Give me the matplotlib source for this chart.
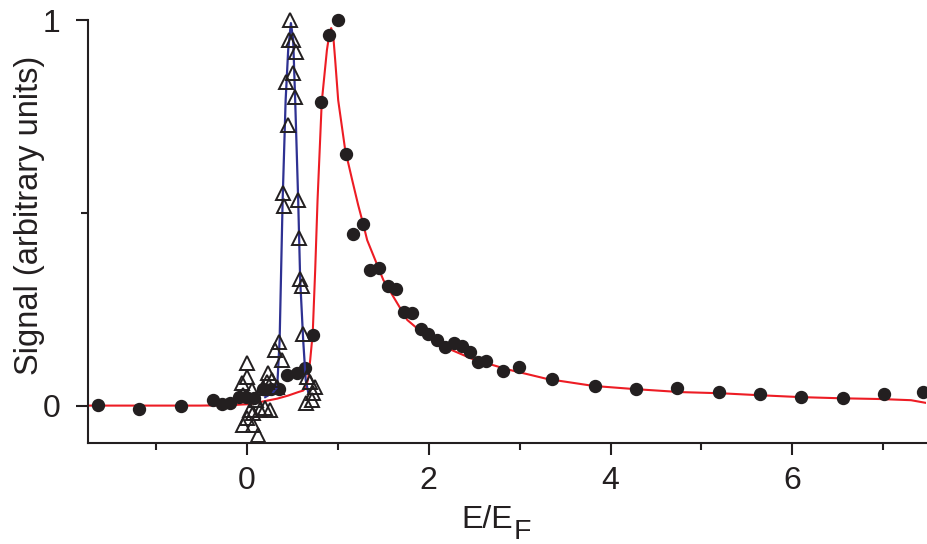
#%%
# --> Import libraries
import matplotlib
matplotlib.use('Agg')
import matplotlib.pyplot as plt
from matplotlib.ticker import FixedLocator

plt.rcParams['font.family'] = ['Liberation Sans', 'DejaVu Sans']


#%%
# --> Data
# filled circles (measured signal)
circle_x = [-1.638, -1.186, -0.724, -0.371, -0.272, -0.184, -0.085, -0.008, 0.080,
            0.180, 0.268, 0.356, 0.444, 0.554, 0.642, 0.730, 0.818, 0.906, 1.005,
            1.093, 1.171, 1.281, 1.358, 1.457, 1.556, 1.644, 1.732, 1.820, 1.919,
            1.997, 2.096, 2.184, 2.283, 2.371, 2.459, 2.547, 2.635, 2.823, 2.999,
            3.362, 3.825, 4.277, 4.728, 5.191, 5.642, 6.094, 6.556, 7.008, 7.437]
circle_y = [0.001, -0.008, -0.001, 0.014, 0.003, 0.006, 0.022, 0.023, 0.020,
            0.043, 0.044, 0.044, 0.080, 0.085, 0.098, 0.183, 0.787, 0.961, 1.000,
            0.652, 0.445, 0.470, 0.351, 0.357, 0.310, 0.302, 0.243, 0.240, 0.198,
            0.185, 0.170, 0.152, 0.162, 0.154, 0.139, 0.113, 0.115, 0.090, 0.100,
            0.069, 0.050, 0.043, 0.045, 0.035, 0.030, 0.022, 0.019, 0.030, 0.035]

# red fit through the circles
red_x = [-1.748, -0.514, -0.184, 0.036, 0.334, 0.455, 0.565, 0.620, 0.653, 0.675,
         0.697, 0.725, 0.752, 0.778, 0.824, 0.881, 0.906, 0.928, 0.950, 0.972,
         1.005, 1.082, 1.159, 1.225, 1.281, 1.324, 1.501, 1.765, 1.985, 2.205,
         2.491, 2.866, 3.306, 3.813, 4.254, 4.771, 5.212, 5.630, 6.091, 6.531,
         6.972, 7.305, 7.470]
red_y = [0.000, 0.000, 0.001, 0.004, 0.018, 0.026, 0.035, 0.039, 0.048, 0.071,
         0.118, 0.188, 0.351, 0.533, 0.787, 0.922, 0.961, 0.979, 0.961, 0.896,
         0.792, 0.663, 0.585, 0.520, 0.470, 0.429, 0.326, 0.222, 0.178, 0.149,
         0.120, 0.094, 0.069, 0.051, 0.043, 0.035, 0.032, 0.027, 0.022, 0.019,
         0.017, 0.014, 0.007]

# open triangles
tri_x = [0.477, 0.469, 0.507, 0.543, 0.513, 0.430, 0.532, 0.449, 0.403, 0.414,
         0.559, 0.574, 0.587, 0.604, 0.615, 0.359, 0.312, 0.385, 0.000, 0.000,
         -0.055, 0.055, 0.238, 0.275, 0.220, 0.330, 0.180, 0.661, 0.697, 0.752,
         0.733, 0.653, 0.716, 0.036, 0.073, 0.146, 0.202, 0.257, 0.000, -0.037,
         0.066, 0.128, -0.041, 0.102]
tri_y = [1.000, 0.948, 0.948, 0.917, 0.863, 0.839, 0.800, 0.727, 0.551, 0.518,
         0.533, 0.434, 0.328, 0.310, 0.185, 0.165, 0.144, 0.118, 0.110, 0.074,
         0.058, 0.040, 0.084, 0.066, 0.061, 0.048, 0.045, 0.074, 0.061, 0.048,
         0.032, 0.006, 0.014, -0.012, -0.019, -0.012, -0.006, -0.012, -0.032, -0.051,
         -0.051, -0.077, 0.027, 0.014]

# blue fit through the triangles
blue_x = [0.202, 0.279, 0.334, 0.361, 0.394, 0.427, 0.455, 0.485, 0.510, 0.532,
          0.565, 0.587, 0.620, 0.648, 0.675]
blue_y = [0.022, 0.032, 0.048, 0.170, 0.533, 0.792, 0.922, 0.992, 0.948, 0.792,
          0.533, 0.326, 0.170, 0.066, 0.035]

x_major = [0, 2, 4, 6]
x_minor = [-1, 1, 3, 5, 7]
y_major = [0, 1]
y_minor = [0.5]


#%%
# --> Plot
W, H = 927, 544
fig = plt.figure(figsize=(W / 100, H / 100), dpi=100)
ax = fig.add_axes([87.7 / W, 1 - 443 / H, (926 - 87.7) / W, (443 - 20) / H])

black = '#231f20'
ax.plot(red_x, red_y, color='#ed1c24', lw=1.5, zorder=2)
ax.plot(circle_x, circle_y, 'o', color=black, ms=8.6, mec=black, zorder=3, clip_on=False)
ax.plot(blue_x, blue_y, color='#2e3192', lw=1.6, zorder=4)
ax.plot(tri_x, tri_y, '^', mfc='none', mec=black, mew=1.4, ms=9.8, zorder=5, clip_on=False)

ax.set_xlim(-1.75, 7.47)
ax.set_ylim(-0.097, 1.0)

for side in ['top', 'right']:
    ax.spines[side].set_visible(False)
for side in ['left', 'bottom']:
    ax.spines[side].set_linewidth(1.5)
    ax.spines[side].set_color(black)

ax.xaxis.set_major_locator(FixedLocator(x_major))
ax.xaxis.set_minor_locator(FixedLocator(x_minor))
ax.yaxis.set_major_locator(FixedLocator(y_major))
ax.yaxis.set_minor_locator(FixedLocator(y_minor))
ax.set_xticklabels([str(v) for v in x_major])
ax.set_yticklabels([str(v) for v in y_major])
ax.tick_params(which='major', length=8.5, width=1.5, color=black, labelsize=23,
               labelcolor=black)
ax.tick_params(which='minor', length=5, width=1.5, color=black)
ax.tick_params(axis='x', which='major', pad=8)
ax.tick_params(axis='y', which='major', pad=11)

# axis labels, subscript kept near full size as in the original
fig.text(30 / W, 1 - 215 / H, 'Signal (arbitrary units)', rotation=90,
         ha='center', va='center', fontsize=23.5, color=black)
fig.text(461.7 / W, 1 - 528 / H, 'E/E', ha='left', va='baseline', fontsize=23, color=black)
fig.text(514 / W, 1 - 539 / H, 'F', ha='left', va='baseline', fontsize=20.5, color=black)

fig.savefig('out.png', dpi=100)
